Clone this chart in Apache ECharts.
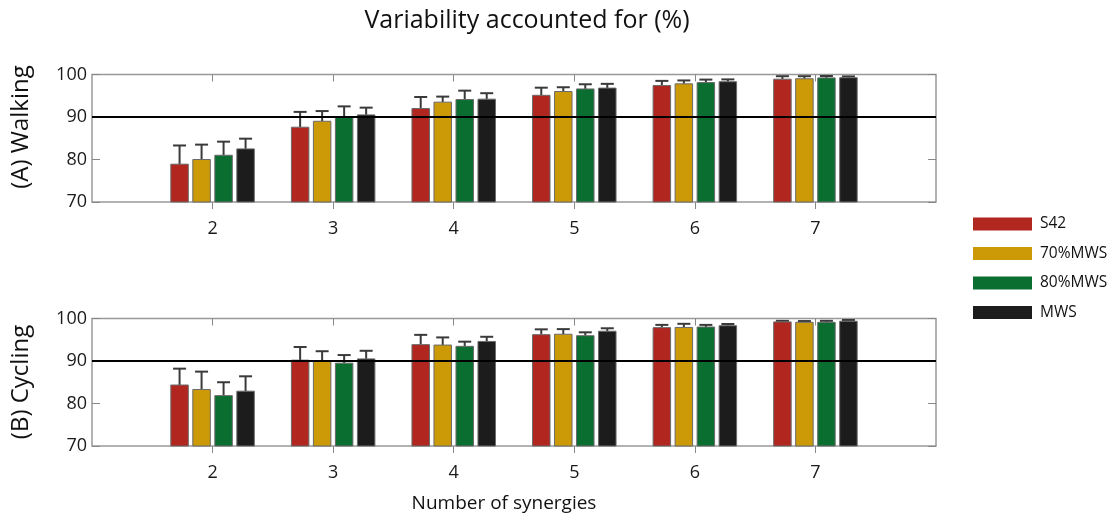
<!DOCTYPE html>
<html>
<head>
<meta charset="utf-8">
<script src="https://cdn.jsdelivr.net/npm/echarts@6/dist/echarts.min.js"></script>
<style>
  html, body { margin: 0; padding: 0; background: #fff; }
  #chart { width: 1117px; height: 520px; }
</style>
</head>
<body>
<div id="chart"></div>
<script>
// Number of synergies on the x axis
const synergies = [2, 3, 4, 5, 6, 7];
const groups = ['S42', '70%MWS', '80%MWS', 'MWS'];
const yTicks = [70, 80, 90, 100];
const threshold = 90;

// (A) Walking: mean VAF (%) per group, and SD shown as upper error bar
const walkS42     = [78.9, 87.6, 92.0, 95.1, 97.4, 98.9];
const walk70      = [80.0, 89.0, 93.5, 96.0, 97.8, 99.0];
const walk80      = [81.0, 90.0, 94.1, 96.6, 98.1, 99.2];
const walkMWS     = [82.5, 90.5, 94.2, 96.8, 98.3, 99.25];
const walkS42Sd   = [4.4, 3.6, 2.7, 1.8, 1.1, 0.7];
const walk70Sd    = [3.5, 2.4, 1.3, 1.0, 0.8, 0.6];
const walk80Sd    = [3.2, 2.5, 2.1, 1.1, 0.7, 0.45];
const walkMWSSd   = [2.4, 1.7, 1.4, 1.0, 0.55, 0.3];

// (B) Cycling
const cycS42      = [84.35, 90.2, 93.85, 96.2, 97.85, 99.2];
const cyc70       = [83.3, 90.0, 93.75, 96.3, 97.9, 99.1];
const cyc80       = [81.85, 89.5, 93.45, 95.95, 98.0, 99.1];
const cycMWS      = [82.9, 90.5, 94.6, 97.0, 98.3, 99.35];
const cycS42Sd    = [3.85, 3.1, 2.3, 1.25, 0.65, 0.25];
const cyc70Sd     = [4.2, 2.3, 1.8, 1.2, 0.85, 0.3];
const cyc80Sd     = [3.15, 1.9, 1.1, 0.8, 0.5, 0.35];
const cycMWSSd    = [3.5, 1.9, 1.1, 0.7, 0.4, 0.3];

const colors = ['#B1261F', '#CC9A06', '#0A6E31', '#1C1C1C'];
const FONT = '"Open Sans", "Noto Sans", sans-serif';

const walkMeans = [walkS42, walk70, walk80, walkMWS];
const walkSds = [walkS42Sd, walk70Sd, walk80Sd, walkMWSSd];
const cycMeans = [cycS42, cyc70, cyc80, cycMWS];
const cycSds = [cycS42Sd, cyc70Sd, cyc80Sd, cycMWSSd];

// bar geometry in x-axis units (one synergy step = 1)
const BAR_W = 0.145;
const BAR_STEP = 0.1825;

function makeRender(k) {
  return function (params, api) {
    const x = api.value(0), m = api.value(1), sd = api.value(2);
    const off = (k - 1.5) * BAR_STEP;
    const top = api.coord([x + off, m]);
    const base = api.coord([x + off, yTicks[0]]);
    const err = api.coord([x + off, m + sd]);
    const w = api.size([BAR_W, 0])[0];
    const cap = 6.5;
    return {
      type: 'group',
      children: [
        {
          type: 'line',
          shape: { x1: top[0], y1: top[1], x2: err[0], y2: err[1] },
          style: { stroke: '#3a3a3a', lineWidth: 2 }
        },
        {
          type: 'line',
          shape: { x1: err[0] - cap, y1: err[1], x2: err[0] + cap, y2: err[1] },
          style: { stroke: '#3a3a3a', lineWidth: 2 }
        },
        {
          type: 'rect',
          shape: { x: top[0] - w / 2, y: top[1], width: w, height: base[1] - top[1] },
          style: { fill: colors[k], stroke: '#6a6a6a', lineWidth: 1 }
        }
      ]
    };
  };
}

const series = [];
[[walkMeans, walkSds, 0], [cycMeans, cycSds, 1]].forEach(([means, sds, gi]) => {
  groups.forEach((name, k) => {
    series.push({
      name: name,
      type: 'custom',
      xAxisIndex: gi,
      yAxisIndex: gi,
      itemStyle: { color: colors[k] },
      renderItem: makeRender(k),
      encode: { x: 0, y: 1 },
      data: synergies.map((s, i) => [s, means[k][i], sds[k][i]]),
      z: 2
    });
  });
  // 90 % reference line across the panel
  series.push({
    type: 'line',
    xAxisIndex: gi,
    yAxisIndex: gi,
    data: [[synergies[0] - 1, threshold], [synergies[synergies.length - 1] + 1, threshold]],
    symbol: 'none',
    lineStyle: { color: '#000', width: 2 },
    silent: true,
    z: 5
  });
});

const xMin = synergies[0] - 1, xMax = synergies[synergies.length - 1] + 1;
const tickStyle = { color: '#888', width: 1 };

function xAxisFor(gi) {
  return {
    type: 'value', gridIndex: gi, min: xMin, max: xMax, interval: 1,
    axisLine: { show: false },
    axisTick: { show: true, inside: false, length: 7, lineStyle: tickStyle, customValues: synergies },
    splitLine: { show: false },
    axisLabel: {
      margin: 18, fontSize: 18, color: '#1a1a1a', fontFamily: FONT,
      customValues: synergies
    }
  };
}
function xTopFor(gi) {
  return {
    type: 'value', gridIndex: gi, min: xMin, max: xMax, interval: 1, position: 'top',
    axisLine: { show: false },
    axisTick: { show: true, inside: true, length: 7, lineStyle: tickStyle, customValues: synergies },
    splitLine: { show: false }, axisLabel: { show: false }
  };
}
function yAxisFor(gi) {
  return {
    type: 'value', gridIndex: gi, min: yTicks[0], max: yTicks[yTicks.length - 1], interval: 10,
    axisLine: { show: false },
    axisTick: { show: true, inside: true, length: 8, lineStyle: tickStyle },
    splitLine: { show: false },
    axisLabel: { margin: 5, fontSize: 18, color: '#1a1a1a', fontFamily: FONT }
  };
}
function yRightFor(gi) {
  return {
    type: 'value', gridIndex: gi, min: yTicks[0], max: yTicks[yTicks.length - 1], interval: 10,
    position: 'right',
    axisLine: { show: false },
    axisTick: { show: true, inside: true, length: 8, lineStyle: tickStyle },
    splitLine: { show: false }, axisLabel: { show: false }
  };
}

const option = {
  animation: false,
  backgroundColor: '#fff',
  textStyle: { fontFamily: FONT },
  title: {
    text: 'Variability accounted for (%)',
    left: 522, top: 3, textAlign: 'center',
    textStyle: { fontSize: 25, fontWeight: 'normal', color: '#111', fontFamily: FONT }
  },
  legend: {
    data: groups,
    orient: 'vertical',
    left: 973, top: 216,
    padding: 0,
    icon: 'rect',
    itemWidth: 59, itemHeight: 13, itemGap: 13.5,
    textStyle: { fontSize: 15.5, color: '#111', fontFamily: FONT, padding: [0, 0, 0, 3] }
  },
  grid: [
    { left: 92, top: 74.5, width: 844, height: 127.5, show: true, borderColor: '#999', borderWidth: 1.5, backgroundColor: 'transparent' },
    { left: 92, top: 318.5, width: 844, height: 127.5, show: true, borderColor: '#999', borderWidth: 1.5, backgroundColor: 'transparent' }
  ],
  xAxis: [xAxisFor(0), xAxisFor(1), xTopFor(0), xTopFor(1)],
  yAxis: [yAxisFor(0), yAxisFor(1), yRightFor(0), yRightFor(1)],
  graphic: [
    {
      type: 'text', x: 504, y: 494,
      style: { text: 'Number of synergies', fontSize: 19, fill: '#111', fontFamily: FONT, textAlign: 'center', textVerticalAlign: 'top' }
    },
    {
      type: 'text', x: 21, y: 127, rotation: Math.PI / 2,
      style: { text: '(A) Walking', fontSize: 24, fill: '#111', fontFamily: FONT, textAlign: 'center', textVerticalAlign: 'middle' }
    },
    {
      type: 'text', x: 21, y: 382, rotation: Math.PI / 2,
      style: { text: '(B) Cycling', fontSize: 24, fill: '#111', fontFamily: FONT, textAlign: 'center', textVerticalAlign: 'middle' }
    }
  ],
  series: series
};

// the extra tick-only axes sit on the same two grids
option.xAxis[2].gridIndex = 0;
option.xAxis[3].gridIndex = 1;
option.yAxis[2].gridIndex = 0;
option.yAxis[3].gridIndex = 1;

const chart = echarts.init(document.getElementById('chart'), null, { renderer: 'canvas' });
chart.setOption(option);
</script>
</body>
</html>
